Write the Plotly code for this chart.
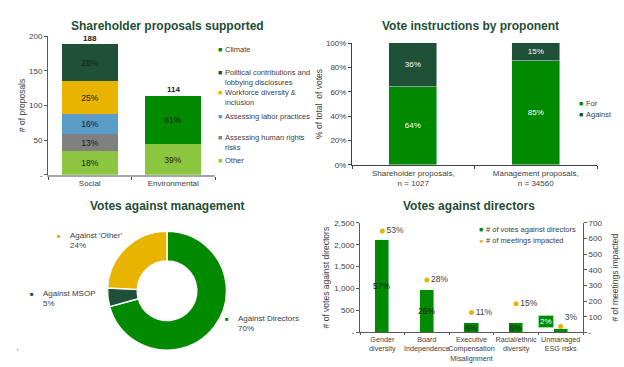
import plotly.graph_objects as go

W, H = 624, 367
def fx(x): return x / W
def fy(y): return 1 - y / H

FONT = "Liberation Sans, Arial, sans-serif"
TXT = "#404040"
TITLE_C = "#1f4e35"

# ---------------- Data ----------------
# Shareholder proposals supported
sp_categories = ["Social", "Environmental"]
sp_totals = [188, 114]
sp_other = [34, 44]
sp_human_rights = [24, 0]
sp_labor = [30, 0]
sp_workforce = [47, 0]
sp_political = [53, 0]
sp_climate = [0, 70]
sp_other_pct = ["18%", "39%"]
sp_human_rights_pct = ["13%", ""]
sp_labor_pct = ["16%", ""]
sp_workforce_pct = ["25%", ""]
sp_political_pct = ["28%", ""]
sp_climate_pct = ["", "61%"]
sp_ticks = [0, 50, 100, 150, 200]
sp_ticktext = ["-", "50", "100", "150", "200"]

# Vote instructions by proponent
vi_categories = ["Shareholder proposals,<br>n = 1027", "Management proposals,<br>n = 34560"]
vi_for = [0.64, 0.85]
vi_against = [0.36, 0.15]

# Votes against management
vm_labels = ["Against Directors", "Against MSOP", "Against 'Other'"]
vm_values = [70, 5, 24]

# Votes against directors
vd_categories = ["Gender<br>diversity", "Board<br>Independence", "Executive<br>Compensation<br>Misalignment",
                 "Racial/ethnic<br>diversity", "Unmanaged<br>ESG risks"]
vd_votes = [2109, 962, 222, 222, 74]
vd_votes_pct = ["57%", "26%", "6%", "6%", "2%"]
vd_meetings = [648, 335, 128, 183, 38]
vd_meetings_pct = ["53%", "28%", "11%", "15%", "3%"]
vd_left_ticks = [0, 500, 1000, 1500, 2000, 2500]
vd_left_ticktext = ["-", "500", "1,000", "1,500", "2,000", "2,500"]
vd_right_ticks = [0, 100, 200, 300, 400, 500, 600, 700]
vd_right_ticktext = ["-", "100", "200", "300", "400", "500", "600", "700"]

# ---------------- Colours ----------------
C_CLIMATE = "#008a00"
C_POLITICAL = "#1e5138"
C_WORKFORCE = "#e8b400"
C_LABOR = "#5b9bc7"
C_HUMAN = "#808080"
C_OTHER = "#8cc63f"

fig = go.Figure()

# ---- Chart 1: stacked bars ----
sp_series = [
    ("Other", sp_other, sp_other_pct, C_OTHER),
    ("Assessing human rights risks", sp_human_rights, sp_human_rights_pct, C_HUMAN),
    ("Assessing labor practices", sp_labor, sp_labor_pct, C_LABOR),
    ("Workforce diversity & inclusion", sp_workforce, sp_workforce_pct, C_WORKFORCE),
    ("Political contributions and lobbying disclosures", sp_political, sp_political_pct, C_POLITICAL),
    ("Climate", sp_climate, sp_climate_pct, C_CLIMATE),
]
for name, vals, pct, col in sp_series:
    fig.add_trace(go.Bar(x=sp_categories, y=vals, name=name, text=pct, marker_color=col,
                         marker_line_width=0, width=0.67, textposition="inside",
                         insidetextanchor="middle", constraintext="none", textangle=0,
                         textfont=dict(size=8.5, color="#1a1a1a", family=FONT),
                         xaxis="x", yaxis="y", showlegend=False, hoverinfo="skip"))

# ---- Chart 2: vote instructions ----
fig.add_trace(go.Bar(x=vi_categories, y=vi_for, name="For", marker_color=C_CLIMATE,
                     text=[f"{v:.0%}" for v in vi_for], textposition="inside",
                     insidetextanchor="middle", constraintext="none", width=0.39, textangle=0,
                     textfont=dict(size=8, color="white", family=FONT),
                     xaxis="x2", yaxis="y2", showlegend=False))
fig.add_trace(go.Bar(x=vi_categories, y=vi_against, name="Against", marker_color=C_POLITICAL,
                     text=[f"{v:.0%}" for v in vi_against], textposition="inside",
                     insidetextanchor="middle", constraintext="none", width=0.39, textangle=0,
                     textfont=dict(size=8, color="white", family=FONT),
                     xaxis="x2", yaxis="y2", showlegend=False))

# ---- Chart 3: donut ----
fig.add_trace(go.Pie(labels=vm_labels, values=vm_values, hole=0.5, sort=False,
                     direction="clockwise", rotation=0, textinfo="none",
                     marker=dict(colors=[C_CLIMATE, C_POLITICAL, C_WORKFORCE],
                                 line=dict(color="white", width=1.5)),
                     domain=dict(x=[fx(106), fx(228)], y=[fy(355), fy(233)]),
                     showlegend=False))

# ---- Chart 4: votes against directors ----
vd_bar_text = [t if v > 150 else "" for t, v in zip(vd_votes_pct, vd_votes)]
fig.add_trace(go.Bar(x=vd_categories, y=vd_votes, name="# of votes against directors",
                     marker_color=C_CLIMATE, width=0.32, text=vd_bar_text,
                     textposition="inside", insidetextanchor="middle", constraintext="none",
                     textangle=0,
                     textfont=dict(size=8.5, color="#1a1a1a", family=FONT),
                     xaxis="x3", yaxis="y3", showlegend=False))
fig.add_trace(go.Scatter(x=vd_categories, y=vd_meetings, name="# of meetings impacted",
                         mode="markers+text", text=vd_meetings_pct,
                         textposition=["middle right"] * 4 + ["top right"],
                         textfont=dict(size=8.5, color=TXT, family=FONT),
                         marker=dict(size=5, color=C_WORKFORCE),
                         xaxis="x3", yaxis="y4", showlegend=False))

ann = []
def title(text, x, y):
    ann.append(dict(text=f"<b>{text}</b>", x=fx(x), y=fy(y), xref="paper", yref="paper",
                    showarrow=False, font=dict(size=12, color=TITLE_C, family=FONT),
                    xanchor="center", yanchor="middle"))
title("Shareholder proposals supported", 167, 22.5)
title("Vote instructions by proponent", 470, 22.5)
title("Votes against management", 167, 207)
title("Votes against directors", 469, 207)

# totals above stacked bars
for c, t in zip(sp_categories, sp_totals):
    ann.append(dict(text=f"<b>{t}</b>", x=c, y=t, xref="x", yref="y", showarrow=False,
                    yanchor="bottom", font=dict(size=8, color="#1a1a1a", family=FONT)))

# small ESG label
for c, v, t in zip(vd_categories, vd_votes, vd_votes_pct):
    if v <= 150:
        ann.append(dict(text=t, x=c, y=v, xref="x3", yref="y3", showarrow=False,
                        yanchor="bottom", xshift=-15, yshift=1, bgcolor=C_CLIMATE,
                        bordercolor="#9fdc9f", borderwidth=1, borderpad=1,
                        font=dict(size=8, color="white", family=FONT)))

def legend_item(sym, color, text, x, y, yc=None, sym_size=7):
    ann.append(dict(text=sym, x=fx(x), y=fy(y), xref="paper", yref="paper", showarrow=False,
                    xanchor="center", yanchor="middle", font=dict(size=sym_size, color=color, family=FONT)))
    ann.append(dict(text=text, x=fx(x + 3), y=fy(yc if yc is not None else y), xref="paper",
                    yref="paper", showarrow=False, xanchor="left", yanchor="middle", align="left",
                    font=dict(size=7.5, color=TXT, family=FONT)))

# chart 1 legend
legend_item("■", C_CLIMATE, "Climate", 220, 46.5)
legend_item("■", C_POLITICAL, "Political contributions and<br>lobbying disclosures", 220, 70, 75)
legend_item("■", C_WORKFORCE, "Workforce diversity &<br>inclusion", 220, 91, 96)
legend_item("■", C_LABOR, "Assessing labor practices", 220, 115)
legend_item("■", C_HUMAN, "Assessing human rights<br>risks", 220, 137, 142)
legend_item("■", C_OTHER, "Other", 220, 160)
# chart 2 legend
legend_item("■", C_CLIMATE, "For", 581, 102.5)
legend_item("■", C_POLITICAL, "Against", 581, 113.5)
# chart 4 legend
legend_item("■", C_CLIMATE, "# of votes against directors", 481, 231)
legend_item("●", C_WORKFORCE, "# of meetings impacted", 481, 242)

# donut labels
donut_pos = {"Against Directors": (227, 322.7, 327.2),
             "Against MSOP": (32, 297.3, 302),
             "Against 'Other'": (59, 237.7, 242.5)}
for lab, val, col in zip(vm_labels, vm_values, [C_CLIMATE, C_POLITICAL, C_WORKFORCE]):
    x, y, yc = donut_pos[lab]
    ann.append(dict(text="■", x=fx(x), y=fy(y), xref="paper", yref="paper", showarrow=False,
                    xanchor="center", yanchor="middle", font=dict(size=6, color=col, family=FONT)))
    ann.append(dict(text=f"{lab}<br>{val}%", x=fx(x + 9), y=fy(yc), xref="paper", yref="paper",
                    showarrow=False, xanchor="left", yanchor="middle", align="left",
                    font=dict(size=8, color=TXT, family=FONT)))
ann.append(dict(text="'", x=fx(15), y=fy(362), xref="paper", yref="paper", showarrow=False,
                font=dict(size=7, color=TXT, family=FONT)))

tickfont = dict(size=8, color=TXT, family=FONT)
axtitle = dict(size=8.5, color=TXT, family=FONT)

fig.update_layout(
    width=W, height=H, margin=dict(l=0, r=0, t=0, b=0),
    paper_bgcolor="white", plot_bgcolor="white", barmode="stack", bargap=0,
    font=dict(family=FONT, color=TXT), annotations=ann,
    xaxis=dict(domain=[fx(48), fx(215)], anchor="y", showline=True, linecolor="#a6a6a6",
               linewidth=2, ticks="outside", tickson="boundaries", ticklen=3, tickcolor="#404040",
               tickfont=tickfont, showgrid=False),
    yaxis=dict(domain=[fy(175), fy(33)], anchor="x", range=[0, 200], tickvals=sp_ticks,
               ticktext=sp_ticktext, showline=True, linecolor="#595959", linewidth=1,
               ticks="outside", ticklen=3, tickcolor="#595959", tickfont=tickfont, showgrid=False,
               zeroline=False, title=dict(text="# of proposals", font=axtitle, standoff=2)),
    xaxis2=dict(domain=[fx(352), fx(597)], anchor="y2", showline=True, linecolor="#404040",
                linewidth=1, ticks="outside", tickson="boundaries", ticklen=3, tickcolor="#404040",
                tickfont=tickfont, showgrid=False),
    yaxis2=dict(domain=[fy(165), fy(40)], anchor="x2", range=[0, 1], tickformat=".0%",
                dtick=0.2, showline=True, linecolor="#404040", linewidth=1, ticks="outside",
                ticklen=3, tickcolor="#404040", tickfont=tickfont, showgrid=False, zeroline=False,
                title=dict(text="% of total  of votes", font=axtitle, standoff=1)),
    xaxis3=dict(domain=[fx(360), fx(583)], anchor="y3", showline=True, linecolor="#595959",
                linewidth=1, ticks="outside", tickson="boundaries", ticklen=2, tickcolor="#595959",
                tickangle=0, tickfont=dict(size=7.2, color=TXT, family=FONT), showgrid=False),
    yaxis3=dict(domain=[fy(336.7), fy(224.3)], anchor="x3", range=[0, 2500],
                tickvals=vd_left_ticks, ticktext=vd_left_ticktext, showline=True,
                linecolor="#595959", linewidth=1, ticks="outside", ticklen=3, tickcolor="#595959",
                tickfont=tickfont, showgrid=False, zeroline=False,
                title=dict(text="# of votes against directors", font=axtitle, standoff=3)),
    yaxis4=dict(overlaying="y3", side="right", anchor="x3", range=[0, 700],
                tickvals=vd_right_ticks, ticktext=vd_right_ticktext, showline=True,
                linecolor="#595959", linewidth=1, ticks="outside", ticklen=3, tickcolor="#595959",
                tickfont=tickfont, showgrid=False, zeroline=False,
                title=dict(text="# of meetings impacted", font=axtitle, standoff=10)),
)

fig.write_html("out.html", config={"displayModeBar": False},
               post_script="document.body.style.margin='0';document.documentElement.style.overflow='hidden';")
